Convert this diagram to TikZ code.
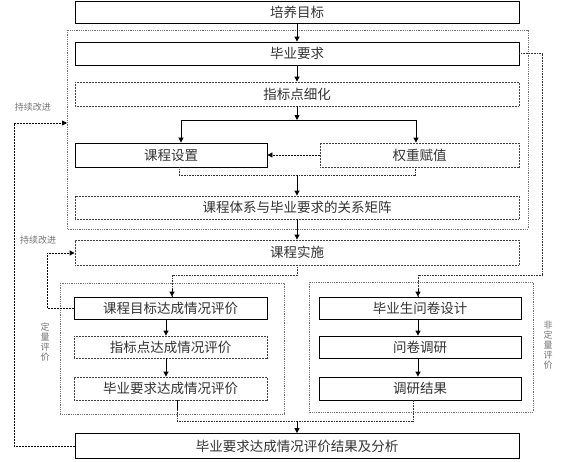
\documentclass[tikz,border=0pt]{standalone}
\usepackage{fontspec}
\setmainfont{Noto Sans CJK SC}
\usetikzlibrary{arrows.meta,positioning,calc}
\tikzset{
  solidbox/.style={draw=black, line width=0.8pt, fill=white, inner sep=0pt, font=\fontsize{13.5}{15}\selectfont, text=black!80},
  dotbox/.style={draw=black!75, line width=0.8pt, dash pattern=on 1pt off 0.5pt, fill=white, inner sep=0pt, font=\fontsize{13.5}{15}\selectfont, text=black!80},
  group/.style={draw=black!55, line width=0.8pt, dash pattern=on 1pt off 0.8pt},
  arr/.style={-{Triangle[length=5pt,width=5pt]}, line width=0.8pt, black},
  dotline/.style={line width=0.8pt, black!80, dash pattern=on 1pt off 0.6pt},
  dashline/.style={line width=0.8pt, black, dash pattern=on 2pt off 1pt},
  side/.style={font=\fontsize{9}{10}\selectfont, text=black!55, inner sep=0pt},
}
\begin{document}
\begin{tikzpicture}[x=1pt,y=-1pt]
\useasboundingbox (0,0) rectangle (568,461);
% group frames
\draw[group] (67,30) rectangle (528,229);
\draw[group] (60,283) rectangle (284,414);
\draw[group] (309,282) rectangle (533,412);
% nodes
\node[solidbox, minimum width=444pt, minimum height=22pt] (n1) at (297,12) {培养目标};
\node[solidbox, minimum width=444pt, minimum height=23pt] (n2) at (297,53.5) {毕业要求};
\node[dotbox, minimum width=444pt, minimum height=24pt] (n3) at (297,94) {指标点细化};
\node[solidbox, minimum width=192pt, minimum height=24pt] (n4) at (171,155) {课程设置};
\node[dotbox, minimum width=199pt, minimum height=24pt] (n5) at (419.5,155) {权重赋值};
\node[dotbox, minimum width=444pt, minimum height=23pt] (n6) at (297,207.5) {课程体系与毕业要求的关系矩阵};
\node[dotbox, minimum width=444pt, minimum height=25pt] (n7) at (297,252.5) {课程实施};
\node[solidbox, minimum width=193pt, minimum height=22pt] (n8) at (170.5,308) {课程目标达成情况评价};
\node[dotbox, minimum width=193pt, minimum height=22pt] (n9) at (170.5,347) {指标点达成情况评价};
\node[dotbox, minimum width=193pt, minimum height=23pt] (n10) at (170.5,388.5) {毕业要求达成情况评价};
\node[solidbox, minimum width=202pt, minimum height=22pt] (n11) at (420,308) {毕业生问卷设计};
\node[solidbox, minimum width=202pt, minimum height=22pt] (n12) at (420,347) {问卷调研};
\node[solidbox, minimum width=202pt, minimum height=23pt] (n13) at (420,388.5) {调研结果};
\node[solidbox, minimum width=444pt, minimum height=25pt] (n14) at (297,446) {毕业要求达成情况评价结果及分析};
% side labels
\node[side] (l1) at (33,107) {持续改进};
\node[side] (l2) at (38,240) {持续改进};
\node[side, align=center] (l3) at (45,342) {定\\量\\评\\价};
\node[side, align=center] (l4) at (548,345) {非\\定\\量\\评\\价};
% coordinates
\coordinate (s1) at (297,120);
\coordinate (s1l) at (181,120);
\coordinate (s1r) at (416,120);
\coordinate (s2) at (297,175);
\coordinate (s3) at (297,275);
\coordinate (s4) at (542,275);
\coordinate (s5) at (297,421);
\coordinate (fb1) at (14,123);
\coordinate (fb1e) at (67,123);
\coordinate (fb2) at (47,253);
% connectors
\draw[arr] (n1.south) -- (n2.north);
\draw[arr] (n2.south) -- (n3.north);
\draw[arr] (n3.south) -- (s1);
\draw[line width=0.8pt] (s1l) -- (s1r);
\draw[arr] (s1l) -- (s1l |- n4.north);
\draw[arr] (s1r) -- (s1r |- n5.north);
\draw[dashline, -{Triangle[length=5pt,width=5pt]}] (n5.west) -- (n4.east);
\draw[dotline] ([xshift=8pt]n4.south) -- ++(0,8) -| ([xshift=-4.5pt]n5.south);
\draw[arr] (s2) -- (n6.north);
\draw[arr] (n6.south) -- (n7.north);
\draw[dotline] (n7.south) -- (s3) -| ([xshift=1.5pt]n8.north);
\draw[arr] ([xshift=1.5pt]n8.north) ++(0,-8) -- ([xshift=1.5pt]n8.north);
\draw[dotline] (n2.east) -- (n2.east -| s4) -- (s4) -| ([xshift=-2pt]n11.north);
\draw[arr] ([xshift=-2pt]n11.north) ++(0,-8) -- ([xshift=-2pt]n11.north);
\draw[arr] ([xshift=-4.5pt]n8.south) -- ([xshift=-4.5pt]n9.north);
\draw[arr] ([xshift=-4.5pt]n9.south) -- ([xshift=-4.5pt]n10.north);
\draw[arr] ([xshift=-2pt]n11.south) -- ([xshift=-2pt]n12.north);
\draw[arr] ([xshift=-2pt]n12.south) -- ([xshift=-2pt]n13.north);
\draw[dotline] ([xshift=6.5pt]n10.south) |- (s5) -| ([xshift=-7pt]n13.south);
\draw[line width=0.8pt] ([xshift=6.5pt]n10.south) -- ++(0,10);
\draw[arr] (s5) -- (n14.north);
\draw[dashline, -{Triangle[length=5pt,width=5pt]}] (n14.west) -| (fb1) -- (fb1e);
\draw[dashline, -{Triangle[length=5pt,width=5pt]}] (n8.west) -| (fb2) -- (fb2 -| n7.west);
\end{tikzpicture}
\end{document}
